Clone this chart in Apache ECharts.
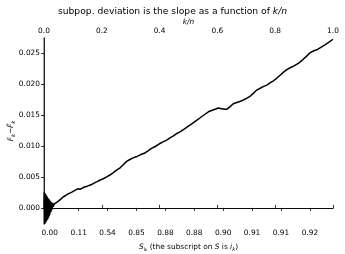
<!DOCTYPE html>
<html><head><meta charset="utf-8">
<script src="https://cdn.jsdelivr.net/npm/echarts@6/dist/echarts.min.js"></script>
<style>html,body{margin:0;padding:0;background:#fff}#c{width:345px;height:254px}</style>
</head><body><div id="c"></div>
<script>
// k/n positions and deviation values
const kn = [0,0.001,0.002,0.003,0.004,0.005,0.006,0.007,0.008,0.009,0.010,0.011,0.012,0.013,0.014,0.015,0.016,0.017,0.018,0.019,0.020,0.022,0.024,0.026,0.028,0.030,0.032,0.035,
0.040,0.050,0.060,0.067,0.075,0.085,0.095,0.101,0.110,0.118,0.125,0.133,0.142,0.150,0.160,0.170,0.182,0.195,0.205,0.217,0.228,0.240,0.251,0.262,0.275,0.286,0.297,0.310,0.322,0.335,0.347,0.360,0.372,0.385,0.398,0.410,0.423,0.436,0.448,0.460,0.472,0.485,0.497,0.510,0.522,0.534,0.545,0.557,0.569,0.580,0.592,0.603,0.615,0.625,0.632,0.643,0.655,0.667,0.680,0.690,0.702,0.713,0.725,0.736,0.748,0.760,0.771,0.783,0.794,0.805,0.817,0.829,0.840,0.852,0.865,0.880,0.893,0.907,0.920,0.932,0.944,0.958,0.972,0.985,1.000];
const deviation = [0.0000,0.0025,-0.0026,0.0024,-0.0025,0.0022,-0.0023,0.0021,-0.0022,0.0019,-0.0020,0.0018,-0.0019,0.0016,-0.0017,0.0015,-0.0015,0.0014,-0.0013,0.0013,-0.0011,0.0011,-0.0007,0.0009,-0.0003,0.0008,0.0002,0.0006,
0.0007,0.0011,0.0015,0.0018,0.0020,0.0023,0.0025,0.0026,0.0029,0.0031,0.0030,0.0032,0.0034,0.0035,0.0037,0.0039,0.0042,0.0045,0.0047,0.0050,0.0053,0.0057,0.0061,0.0064,0.0070,0.0075,0.0078,0.0081,0.0083,0.0086,0.0088,0.0092,0.0096,0.0099,0.0103,0.0106,0.0109,0.0113,0.0116,0.0120,0.0123,0.0127,0.0131,0.0135,0.0139,0.0143,0.0147,0.0151,0.0155,0.0157,0.0159,0.0161,0.0160,0.0159,0.0159,0.0163,0.0168,0.0170,0.0172,0.0174,0.0177,0.0180,0.0185,0.0190,0.0193,0.0196,0.0198,0.0202,0.0205,0.0209,0.0214,0.0219,0.0223,0.0226,0.0229,0.0233,0.0238,0.0244,0.0250,0.0253,0.0255,0.0259,0.0263,0.0267,0.0272];
const yTicks = [0.000,0.005,0.010,0.015,0.020,0.025];
const topTicks = [0.0,0.2,0.4,0.6,0.8,1.0];
const bottomLabels = ['0.00','0.11','0.54','0.85','0.88','0.88','0.90','0.91','0.91','0.92'];

const bottomPos = bottomLabels.map((_, i) => (i + 0.2) / 10);
const F = 'DejaVu Sans';
const FS = 7.4;
const chart = echarts.init(document.getElementById('c'), null, {renderer:'canvas'});
chart.setOption({
  animation:false,
  title:{text:'subpop. deviation is the slope as a function of {i|k/n}', left:'center', top:2,
    textStyle:{fontFamily:F,fontSize:9.2,fontWeight:'normal',color:'#000',
      rich:{i:{fontFamily:F,fontSize:9.2,fontStyle:'italic',color:'#000'}}}},
  grid:{left:44,right:12,top:38,bottom:30,containLabel:false,outerBoundsMode:'none'},
  xAxis:[
    {type:'value',position:'top',min:0,max:1,interval:0.2,
     name:'k/n',nameLocation:'middle',nameGap:12,nameMoveOverlap:false,
     nameTextStyle:{fontFamily:F,fontSize:FS,fontStyle:'italic',color:'#000'},
     axisLine:{show:true,lineStyle:{color:'#000',width:0.8}},
     axisTick:{show:true,inside:false,length:3,lineStyle:{color:'#000',width:0.8},customValues:topTicks},
     axisLabel:{fontFamily:F,fontSize:FS,color:'#000',margin:3,customValues:topTicks,formatter:v=>v.toFixed(1)},
     splitLine:{show:false}},
    {type:'value',position:'bottom',min:0,max:1,
     name:'{i|S}{sub|i}{subsub|k}{n| (the subscript on }{i|S}{n| is }{i|i}{sub|k}{n|)}',nameLocation:'middle',nameGap:18,nameMoveOverlap:false,
     nameTextStyle:{fontFamily:F,fontSize:FS,color:'#000',
       rich:{i:{fontFamily:F,fontSize:FS,fontStyle:'italic',color:'#000'},
             n:{fontFamily:F,fontSize:FS,color:'#000'},
             sub:{fontFamily:F,fontSize:5.2,fontStyle:'italic',color:'#000',verticalAlign:'bottom',padding:[4,0,0,0]},
             subsub:{fontFamily:F,fontSize:4,fontStyle:'italic',color:'#000',verticalAlign:'bottom',padding:[6,0,0,0]}}},
     axisLine:{show:true,lineStyle:{color:'#000',width:0.8}},
     axisTick:{show:true,length:3,lineStyle:{color:'#000',width:0.8},customValues:bottomPos},
     axisLabel:{fontFamily:F,fontSize:FS,color:'#000',margin:6,customValues:bottomPos,
       formatter:(v)=>{const i=Math.round(v*10-0.2);return bottomLabels[i]!==undefined?bottomLabels[i]:'';}},
     splitLine:{show:false}}
  ],
  yAxis:[
    {type:'value',min:-0.0026,max:0.0274,
     name:'{i|F}{sub|k}{n|−}{i|F̃}{sub|k}',nameLocation:'middle',nameGap:28,nameRotate:90,nameMoveOverlap:false,
     nameTextStyle:{fontFamily:F,fontSize:FS,color:'#000',
       rich:{i:{fontFamily:F,fontSize:FS,fontStyle:'italic',color:'#000'},
             n:{fontFamily:F,fontSize:FS,color:'#000'},
             sub:{fontFamily:F,fontSize:5.2,fontStyle:'italic',color:'#000',verticalAlign:'bottom',padding:[4,0,0,0]}}},
     axisLine:{show:true,lineStyle:{color:'#888',width:1.5}},
     axisTick:{show:true,length:3,lineStyle:{color:'#000',width:0.8},customValues:yTicks},
     axisLabel:{fontFamily:F,fontSize:FS,color:'#000',margin:4,customValues:yTicks,formatter:v=>v.toFixed(3)},
     splitLine:{show:false}},
    {type:'value',position:'right',min:-0.0026,max:0.0274,
     axisLine:{show:true,lineStyle:{color:'#000',width:0.8}},
     axisTick:{show:false},axisLabel:{show:false},splitLine:{show:false}}
  ],
  series:[{type:'line',xAxisIndex:0,yAxisIndex:0,data:kn.map((k,i)=>[k,deviation[i]]),
    showSymbol:false,symbol:'none',lineStyle:{color:'#000',width:1.5},clip:true}]
});
</script></body></html>
